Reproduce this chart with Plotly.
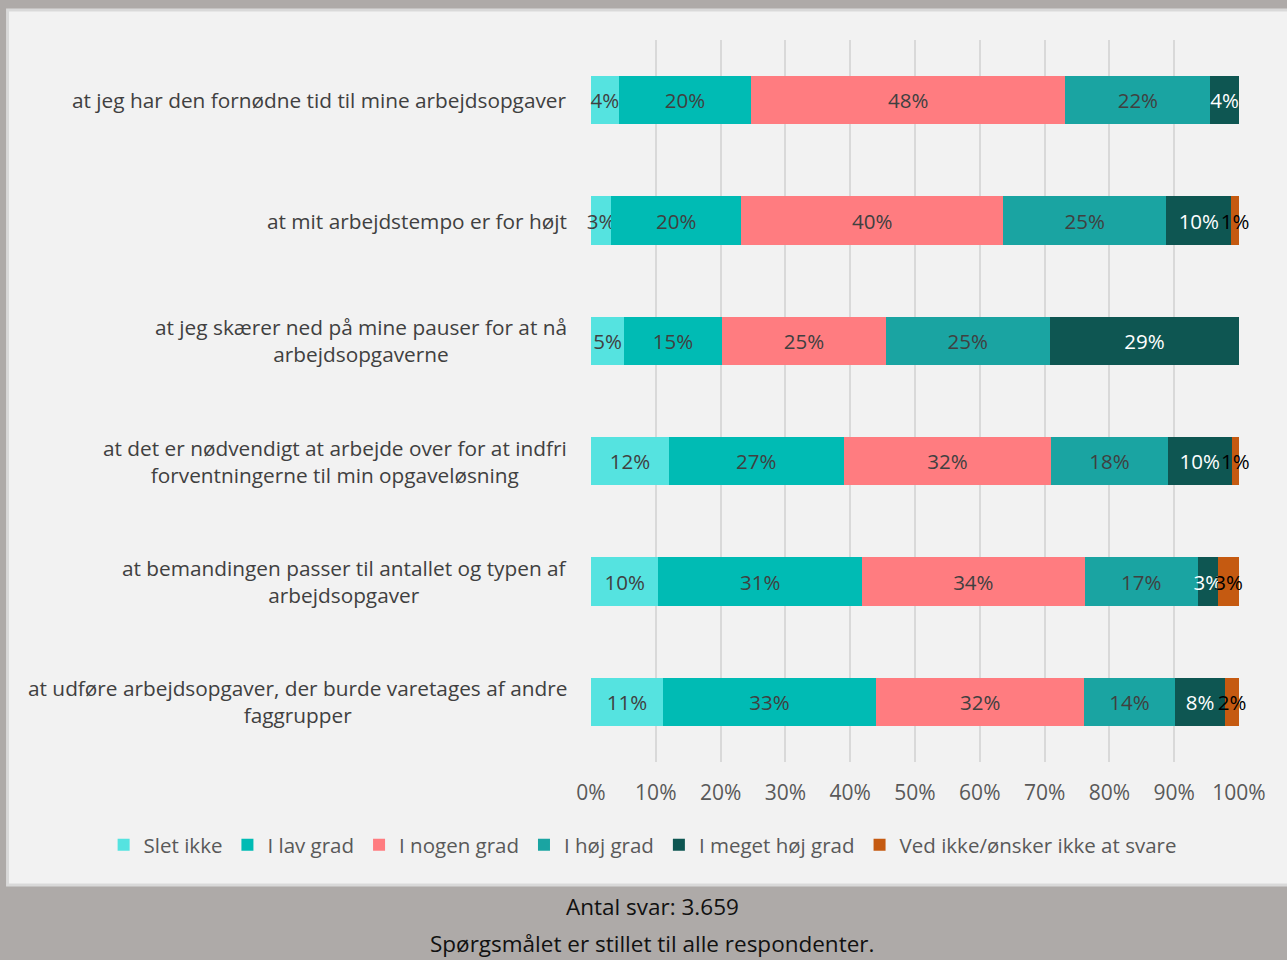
import plotly.graph_objects as go

# questions, top to bottom
questions = [
    "at jeg har den fornødne tid til mine arbejdsopgaver",
    "at mit arbejdstempo er for højt",
    "at jeg skærer ned på mine pauser for at nå<br>arbejdsopgaverne",
    "at det er nødvendigt at arbejde over for at indfri<br>forventningerne til min opgaveløsning",
    "at bemandingen passer til antallet og typen af<br>arbejdsopgaver",
    "at udføre arbejdsopgaver, der burde varetages af andre<br>faggrupper",
]

answers = ["Slet ikke", "I lav grad", "I nogen grad", "I høj grad", "I meget høj grad",
           "Ved ikke/ønsker ikke at svare"]

# percent per answer, one value per question
slet_ikke = [4.3, 3.1, 5.1, 12.0, 10.4, 11.1]
lav_grad = [20.4, 20.1, 15.1, 27.0, 31.4, 32.9]
nogen_grad = [48.49, 40.4, 25.3, 32.0, 34.4, 32.1]
hoej_grad = [22.4, 25.2, 25.3, 18.0, 17.4, 14.0]
meget_hoej = [4.4, 10.0, 29.2, 9.9, 3.2, 7.8]
ved_ikke = [0, 1.2, 0, 1.1, 3.2, 2.1]

series = [slet_ikke, lav_grad, nogen_grad, hoej_grad, meget_hoej, ved_ikke]
colors = ["#55e3e0", "#00bbb4", "#ff7c80", "#1aa4a2", "#0e5652", "#c55a11"]
text_colors = ["#404040", "#404040", "#404040", "#404040", "#ffffff", "#000000"]

tick_vals = list(range(0, 101, 10))
tick_text = [f"{v}%" for v in tick_vals]

FONT = "Open Sans"

# plot area in pixels: x 591..1238.5, y 40..762
def px_x(p):
    return (p - 591) / 647.5

def px_y(p):
    return (762 - p) / 722

fig = go.Figure()
for name, vals, col, tcol in zip(answers, series, colors, text_colors):
    fig.add_trace(go.Bar(
        y=questions, x=vals, name=name, orientation="h",
        marker=dict(color=col, line=dict(width=0)),
        text=[f"{round(v)}%" if v > 0 else "" for v in vals],
        textposition="inside", insidetextanchor="middle", textangle=0,
        textfont=dict(family=FONT, size=20.5, color=tcol),
        cliponaxis=False,
    ))

# grey frame + light panel behind the chart
fig.add_shape(type="rect", xref="paper", yref="paper", layer="below",
              x0=px_x(8), x1=px_x(1300), y0=px_y(885), y1=px_y(10),
              fillcolor="#f2f2f2", line=dict(color="#d9d9d9", width=3))

# y labels as centred annotations
for q in questions:
    fig.add_annotation(x=0, y=q, xref="paper", yref="y", text=q, showarrow=False,
                       xanchor="right", align="center", xshift=-22,
                       font=dict(family=FONT, size=20.8, color="#404040"))

fig.add_annotation(x=px_x(652), y=px_y(906), xref="paper", yref="paper",
                   showarrow=False, text="Antal svar: 3.659",
                   xanchor="center", yanchor="middle",
                   font=dict(family=FONT, size=22.5, color="#111111"))
fig.add_annotation(x=px_x(652), y=px_y(943), xref="paper", yref="paper",
                   showarrow=False, text="Spørgsmålet er stillet til alle respondenter.",
                   xanchor="center", yanchor="middle",
                   font=dict(family=FONT, size=22.5, color="#111111"))

fig.update_layout(
    width=1287, height=960,
    margin=dict(l=591, r=48, t=40, b=198),
    barmode="stack", bargap=0.6,
    paper_bgcolor="#aeaaa8", plot_bgcolor="#f2f2f2",
    font=dict(family=FONT, size=20.5, color="#595959"),
    uniformtext=dict(mode="show", minsize=20.5),
    showlegend=True,
    legend=dict(orientation="h", x=px_x(104), xanchor="left", y=px_y(845), yanchor="middle",
                font=dict(family=FONT, size=20.5, color="#595959"),
                bgcolor="rgba(0,0,0,0)", traceorder="normal", itemwidth=30),
    xaxis=dict(range=[0, 100], tickvals=tick_vals, ticktext=tick_text,
               showgrid=True, gridcolor="#d9d9d9", gridwidth=2, zeroline=False,
               showline=False, ticks="", ticklabelstandoff=16,
               tickfont=dict(family=FONT, size=21, color="#595959")),
    yaxis=dict(autorange="reversed", showticklabels=False, showgrid=False, zeroline=False,
               ticks=""),
)

fig.write_html("out.html", config={"displayModeBar": False},
               post_script="document.body.style.margin='0';document.body.style.overflow='hidden';")
